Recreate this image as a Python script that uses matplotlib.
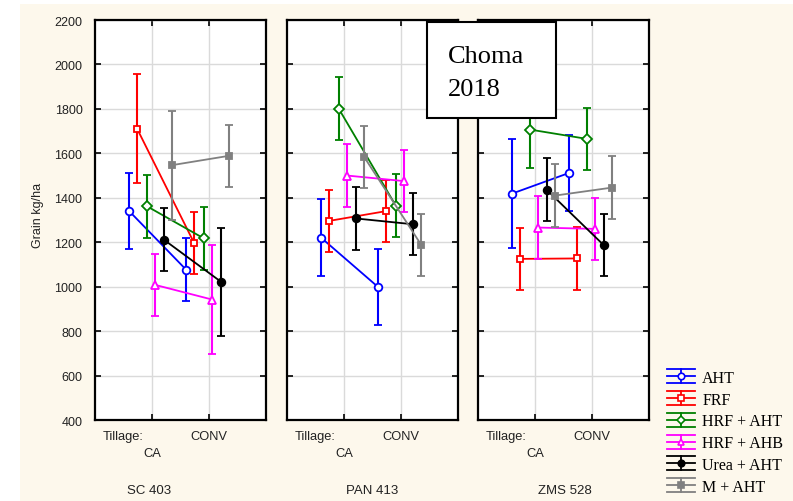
import matplotlib
matplotlib.use("Agg")
import matplotlib.pyplot as plt
from matplotlib.lines import Line2D
from matplotlib.patches import Rectangle
from matplotlib.legend_handler import HandlerBase
from matplotlib.font_manager import FontProperties

# ---- data -------------------------------------------------------------
hybrids = ["SC 403", "PAN 413", "ZMS 528"]
tillage = ["CA", "CONV"]
treatments = ["AHT", "FRF", "HRF + AHT", "HRF + AHB", "Urea + AHT", "M + AHT"]

# mean grain yield (kg/ha), rows = treatments, cols = [CA, CONV]
sc403_mean = [[1340, 1076], [1710, 1196], [1362, 1217],
              [1008, 942], [1212, 1023], [1547, 1589]]
pan413_mean = [[1220, 998], [1296, 1340], [1800, 1364],
               [1500, 1475], [1307, 1281], [1583, 1188]]
zms528_mean = [[1419, 1512], [1125, 1127], [1707, 1665],
               [1266, 1260], [1436, 1187], [1410, 1446]]

# half-width of the error bars
sc403_err = [[172, 141], [245, 141], [141, 141],
             [141, 245], [141, 243], [245, 140]]
pan413_err = [[174, 172], [140, 140], [142, 141],
              [141, 141], [141, 140], [141, 141]]
zms528_err = [[245, 172], [140, 140], [175, 141],
              [142, 141], [141, 141], [140, 141]]

y_ticks = list(range(400, 2201, 200))

# ---- style --------------------------------------------------------------
colors = ["#0000ff", "#ff0000", "#008000", "#ff00ff", "#000000", "#808080"]
markers = ["o", "s", "D", "^", "o", "s"]
msizes = [5.5, 5.0, 5.0, 5.5, 5.5, 5.0]
filled = [False, False, False, False, True, True]
dodge = [-0.40, -0.26, -0.09, 0.055, 0.205, 0.355]
CREAM = "#fdf8ec"
SANS = "Liberation Sans"
SERIF = "Liberation Serif"

W, H = 793, 502
fig = plt.figure(figsize=(W / 100, H / 100), dpi=100)
fig.patch.set_facecolor("white")
fig.add_artist(Rectangle((20 / W, 0), 1 - 20 / W, 1 - 5 / H,
                         transform=fig.transFigure, facecolor=CREAM,
                         edgecolor="none", zorder=-10))

means = [sc403_mean, pan413_mean, zms528_mean]
errs = [sc403_err, pan413_err, zms528_err]
lefts = [95, 287, 478]
name_x = [0.95, 1.5, 1.52]

for p, (hyb, mean, err) in enumerate(zip(hybrids, means, errs)):
    ax = fig.add_axes([lefts[p] / W, 1 - 421 / H, 171 / W, 400 / H])
    ax.set_facecolor("white")
    ax.set_xlim(0, 3)
    ax.set_ylim(400, 2200)
    ax.set_yticks(y_ticks)
    ax.set_xticks([1, 2])
    ax.grid(True, color="#dadada", lw=1.0)
    ax.set_axisbelow(True)
    ax.tick_params(direction="in", length=4, width=1.2, top=True, right=True,
                   labelbottom=False, labelleft=(p == 0), labelsize=9,
                   pad=9, colors="black", labelcolor="#222222")
    for lab in ax.get_yticklabels():
        lab.set_family(SANS)
    for sp in ax.spines.values():
        sp.set_linewidth(1.6)

    for k in range(len(treatments)):
        xs = [1 + dodge[k], 2 + dodge[k]]
        ax.errorbar(xs, mean[k], yerr=err[k], color=colors[k], lw=1.3,
                    elinewidth=1.5, capsize=3, capthick=1.5,
                    marker=markers[k], ms=msizes[k], mew=1.3,
                    mfc=colors[k] if filled[k] else "white",
                    mec=colors[k], zorder=3 + k)

    trans = ax.get_xaxis_transform()
    kw = dict(xycoords=trans, textcoords="offset points", ha="center",
              va="center", fontsize=9.3, family=SANS, color="#222222")
    ax.annotate("Tillage:", (0.49, 0), xytext=(0, -11.5), **kw)
    ax.annotate(tillage[0], (1, 0), xytext=(0, -23.8), **kw)
    ax.annotate(tillage[1], (2, 0), xytext=(0, -11.5), **kw)
    kw["fontsize"] = 9.5
    ax.annotate(hyb, (name_x[p], 0), xytext=(0, -50.4), **kw)

fig.text(38 / W, 1 - 215 / H, "Grain kg/ha", rotation=90, ha="center",
         va="center", fontsize=9, family=SANS, color="#222222")

# site / season label box
fig.add_artist(Rectangle((427 / W, 1 - 119 / H), 129 / W, 96 / H,
                         transform=fig.transFigure, facecolor="white",
                         edgecolor="black", lw=1.5, zorder=20))
fig.text(448 / W, 1 - 63 / H, "Choma", fontsize=19, family=SERIF,
         va="baseline", ha="left", zorder=21)
fig.text(448 / W, 1 - 96 / H, "2018", fontsize=19, family=SERIF,
         va="baseline", ha="left", zorder=21)


class CappedHandler(HandlerBase):
    """Legend glyph: line with marker framed by full-width caps."""

    def create_artists(self, legend, orig, xd, yd, w, h, fs, trans):
        c = orig.get_color()
        y0 = h / 2 - yd
        x0, x1 = -xd, -xd + w
        xm = (x0 + x1) / 2
        dy = 5.0
        arts = [
            Line2D([x0, x1], [y0, y0], color=c, lw=1.3),
            Line2D([x0, x1], [y0 + dy, y0 + dy], color=c, lw=1.3),
            Line2D([x0, x1], [y0 - dy, y0 - dy], color=c, lw=1.3),
            Line2D([xm, xm], [y0 - dy, y0 + dy], color=c, lw=1.3),
            Line2D([xm], [y0], marker=orig.get_marker(),
                   ms=orig.get_markersize() * 0.85,
                   mfc=orig.get_markerfacecolor(), mec=c, mew=1.2, ls="none"),
        ]
        for a in arts:
            a.set_transform(trans)
        return arts


handles = [Line2D([], [], color=colors[k], marker=markers[k], ms=msizes[k],
                  mfc=colors[k] if filled[k] else "white")
           for k in range(len(treatments))]
fig.legend(handles, treatments, loc="upper left",
           bbox_to_anchor=(667 / W, 1 - 371 / H), frameon=False,
           prop=FontProperties(family=SERIF, size=11.5),
           handler_map={Line2D: CappedHandler()}, handlelength=1.75,
           handletextpad=0.45, labelspacing=0.36, borderpad=0,
           borderaxespad=0)

fig.savefig("out.png", dpi=100, facecolor=fig.get_facecolor())
